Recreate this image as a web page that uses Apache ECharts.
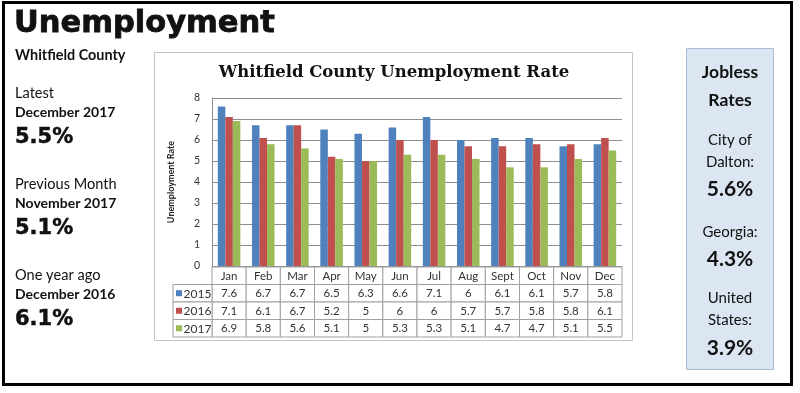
<!DOCTYPE html>
<html>
<head>
<meta charset="utf-8">
<script src="https://cdn.jsdelivr.net/npm/echarts@6/dist/echarts.min.js"></script>
<style>html,body{margin:0;padding:0;background:#fff;}#c{width:800px;height:393px;}</style>
</head>
<body>
<div id="c"></div>
<script>
const months = ['Jan','Feb','Mar','Apr','May','Jun','Jul','Aug','Sept','Oct','Nov','Dec'];
const years = ['2015','2016','2017'];
const rate2015 = [7.6,6.7,6.7,6.5,6.3,6.6,7.1,6,6.1,6.1,5.7,5.8];
const rate2016 = [7.1,6.1,6.7,5.2,5,6,6,5.7,5.7,5.8,5.8,6.1];
const rate2017 = [6.9,5.8,5.6,5.1,5,5.3,5.3,5.1,4.7,4.7,5.1,5.5];
const yTicks = [0,1,2,3,4,5,6,7,8];
const colors = ['#4F81BD','#C0504D','#9BBB59'];

const seriesValues = [rate2015, rate2016, rate2017];
const tableRows = ['months'].concat(years);
const tableCells = [];
tableRows.forEach((r, ri) => {
  months.forEach((m, i) => {
    const txt = ri === 0 ? m : String(seriesValues[ri-1][i]);
    tableCells.push({ value: [i, ri], txt: txt });
  });
});
const legendCells = years.map((y, k) => ({ value: [0, k + 1], txt: y, color: colors[k] }));

const chart = echarts.init(document.getElementById('c'), null, { renderer: 'canvas' });
const gridColor = '#8e8e8e';
const tableLine = '#a0a0a0';

const sideText = (x, y, text, font, align, heavy) => ({
  type: 'text', x: x, y: y,
  style: Object.assign({ text: text, font: font, fill: '#111', textAlign: align || 'left', textVerticalAlign: 'middle' },
    heavy ? { stroke: '#111', lineWidth: heavy } : {})
});

chart.setOption({
  animation: false,
  grid: [
    { left: 212, right: 178, top: 98, bottom: 127 },
    { left: 212, right: 178, top: 267, bottom: 56 }
  ],
  xAxis: [
    { type: 'category', gridIndex: 0, data: months,
      axisLine: { show: true, lineStyle: { color: gridColor } },
      axisTick: { show: false }, axisLabel: { show: false } },
    { type: 'category', gridIndex: 1, data: months,
      axisLine: { show: false }, axisTick: { show: false }, axisLabel: { show: false } }
  ],
  yAxis: [
    { type: 'value', gridIndex: 0, min: 0, max: yTicks[yTicks.length-1], interval: 1,
      name: 'Unemployment Rate', nameLocation: 'middle', nameGap: 36, nameRotate: 90,
      nameTextStyle: { fontFamily: 'Lato', fontWeight: 'bold', fontSize: 9, color: '#222' },
      axisLine: { show: true, lineStyle: { color: gridColor } },
      axisTick: { show: false },
      axisLabel: { fontFamily: 'Lato', fontSize: 10.5, color: '#333', margin: 12 },
      splitLine: { show: true, lineStyle: { color: gridColor, width: 1 } } },
    { type: 'category', gridIndex: 1, data: tableRows, inverse: true,
      axisLine: { show: false }, axisTick: { show: false }, axisLabel: { show: false } }
  ],
  series: [
    ...years.map((y, k) => ({
      type: 'bar', name: y, xAxisIndex: 0, yAxisIndex: 0,
      data: seriesValues[k], barGap: '0%', barCategoryGap: '34%',
      itemStyle: { color: colors[k] }
    })),
    {
      type: 'custom', xAxisIndex: 1, yAxisIndex: 1, data: tableCells,
      renderItem: function (params, api) {
        const c = api.coord([api.value(0), api.value(1)]);
        const s = api.size([1, 1]);
        const cell = tableCells[params.dataIndex];
        return { type: 'group', children: [
          { type: 'rect', shape: { x: c[0]-s[0]/2, y: c[1]-s[1]/2, width: s[0], height: s[1] },
            style: { fill: '#fff', stroke: tableLine, lineWidth: 1 } },
          { type: 'text', style: { text: cell.txt, x: c[0], y: c[1]+0.5, textAlign: 'center', textVerticalAlign: 'middle',
            font: '11.5px Lato', fill: '#333' } }
        ]};
      }
    },
    {
      type: 'custom', xAxisIndex: 1, yAxisIndex: 1, data: legendCells,
      renderItem: function (params, api) {
        const c = api.coord([api.value(0), api.value(1)]);
        const s = api.size([1, 1]);
        const cell = legendCells[params.dataIndex];
        const w = 39;
        const x0 = c[0] - s[0]/2 - w;
        return { type: 'group', children: [
          { type: 'rect', shape: { x: x0, y: c[1]-s[1]/2, width: w, height: s[1] },
            style: { fill: '#fff', stroke: tableLine, lineWidth: 1 } },
          { type: 'rect', shape: { x: x0 + 3, y: c[1]-3, width: 6, height: 6 },
            style: { fill: cell.color } },
          { type: 'text', style: { text: cell.txt, x: x0 + 10.5, y: c[1]+0.5, textAlign: 'left', textVerticalAlign: 'middle',
            font: '12px Lato', fill: '#333' } }
        ]};
      }
    }
  ],
  graphic: [
    { type: 'rect', z: -10, shape: { x: 3.5, y: 2.5, width: 788, height: 382 },
      style: { fill: 'none', stroke: '#000', lineWidth: 3 } },
    { type: 'rect', z: -10, shape: { x: 154.5, y: 52.5, width: 478, height: 288 },
      style: { fill: '#fff', stroke: '#c4c4c4', lineWidth: 1 } },
    { type: 'rect', z: -10, shape: { x: 686.5, y: 48.5, width: 87, height: 321 },
      style: { fill: '#dce6f2', stroke: '#a9bcd6', lineWidth: 1 } },
    { type: 'text', x: 394, y: 73,
      style: { text: 'Whitfield County Unemployment Rate', font: 'bold 16.5px "DejaVu Serif"', fill: '#111',
        textAlign: 'center', textVerticalAlign: 'middle' } },
    sideText(14, 24, 'Unemployment', 'bold 30.5px "DejaVu Sans"', 'left', 0.8),
    sideText(15, 55, 'Whitfield County', 'bold 14.4px Lato'),
    sideText(15, 93, 'Latest', '14.6px Lato'),
    sideText(15, 112, 'December 2017', 'bold 14px Lato'),
    sideText(15, 138, '5.5%', 'bold 21px "DejaVu Sans"', 'left', 0.5),
    sideText(15, 184, 'Previous Month', '14.6px Lato'),
    sideText(15, 203, 'November 2017', 'bold 14px Lato'),
    sideText(15, 229, '5.1%', 'bold 21px "DejaVu Sans"', 'left', 0.5),
    sideText(15, 275, 'One year ago', '14.6px Lato'),
    sideText(15, 294, 'December 2016', 'bold 14px Lato'),
    sideText(15, 320, '6.1%', 'bold 21px "DejaVu Sans"', 'left', 0.5),
    sideText(730, 72, 'Jobless', 'bold 17.5px Lato', 'center'),
    sideText(730, 100, 'Rates', 'bold 17.5px Lato', 'center'),
    sideText(730, 140, 'City of', '15px Lato', 'center'),
    sideText(730, 162, 'Dalton:', '15px Lato', 'center'),
    sideText(730, 189, '5.6%', 'bold 21px Lato', 'center'),
    sideText(730, 232, 'Georgia:', '15px Lato', 'center'),
    sideText(730, 259, '4.3%', 'bold 21px Lato', 'center'),
    sideText(730, 298, 'United', '15px Lato', 'center'),
    sideText(730, 320, 'States:', '15px Lato', 'center'),
    sideText(730, 348, '3.9%', 'bold 21px Lato', 'center')
  ]
});
</script>
</body>
</html>
